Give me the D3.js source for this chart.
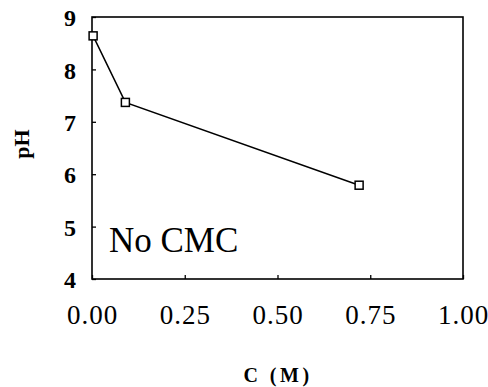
<!DOCTYPE html>
<html><head><meta charset="utf-8">
<script src="https://cdn.jsdelivr.net/npm/d3@7"></script>
<style>body{margin:0;background:#fff}svg{display:block}</style>
</head><body>
<script>
const concentration = [0.003, 0.09, 0.72];
const pH = [8.64, 7.37, 5.79];
const xTicks = [0, 0.25, 0.5, 0.75, 1.0];
const yTicks = [4, 5, 6, 7, 8, 9];
const annotation = "No CMC";
const xTitle = "C (M)";
const yTitle = "pH";

const W = 488, H = 387;
const m = {left: 92, right: 463, top: 17, bottom: 279};
const svg = d3.select("body").append("svg").attr("width", W).attr("height", H);
const x = d3.scaleLinear().domain([0, 1]).range([m.left, m.right]);
const y = d3.scaleLinear().domain([4, 9]).range([m.bottom, m.top]);
const serif = "'Liberation Serif','Times New Roman',serif";

// frame
svg.append("rect").attr("x", m.left).attr("y", m.top)
  .attr("width", m.right - m.left).attr("height", m.bottom - m.top)
  .attr("fill", "none").attr("stroke", "#000").attr("stroke-width", 1.6);

// axes with inward ticks
const xAxis = svg.append("g").attr("transform", `translate(0,${m.bottom})`)
  .call(d3.axisBottom(x).tickValues(xTicks).tickSize(-4).tickPadding(20).tickFormat(d3.format(".2f")));
xAxis.select(".domain").remove();
xAxis.selectAll("line").attr("stroke-width", 1.3);
xAxis.selectAll("text").attr("font-family", serif).attr("font-size", 27).attr("fill", "#000")
  .attr("dy", "0.72em").attr("y", 26).attr("letter-spacing", 1);

const yAxis = svg.append("g").attr("transform", `translate(${m.left},0)`)
  .call(d3.axisLeft(y).tickValues(yTicks).tickSize(-4).tickPadding(16).tickFormat(d3.format("d")));
yAxis.select(".domain").remove();
yAxis.selectAll("line").attr("stroke-width", 1.3);
yAxis.selectAll("text").attr("font-family", serif).attr("font-size", 24).attr("font-weight", "bold")
  .attr("fill", "#000").attr("dy", "0.36em");

// line
const pts = concentration.map((c, i) => [c, pH[i]]);
svg.append("path").datum(pts)
  .attr("d", d3.line().x(d => x(d[0])).y(d => y(d[1])))
  .attr("fill", "none").attr("stroke", "#000").attr("stroke-width", 1.5);

// square markers
const s = 8;
svg.selectAll("rect.pt").data(pts).join("rect").attr("class", "pt")
  .attr("x", d => x(d[0]) - s / 2).attr("y", d => y(d[1]) - s / 2)
  .attr("width", s).attr("height", s)
  .attr("fill", "#fff").attr("stroke", "#000").attr("stroke-width", 1.5);

// annotation
svg.append("text").attr("x", 109).attr("y", 252).attr("font-family", serif)
  .attr("font-size", 35).attr("fill", "#000").text(annotation);

// axis titles
svg.append("text").attr("x", 278).attr("y", 382).attr("text-anchor", "middle")
  .attr("font-family", serif).attr("font-size", 20).attr("font-weight", "bold")
  .attr("letter-spacing", 3.5).attr("fill", "#000").text(xTitle);
svg.append("text").attr("transform", "translate(29,144) rotate(-90)").attr("text-anchor", "middle")
  .attr("font-family", serif).attr("font-size", 22).attr("font-weight", "bold").attr("fill", "#000").text(yTitle);
</script>
</body></html>
